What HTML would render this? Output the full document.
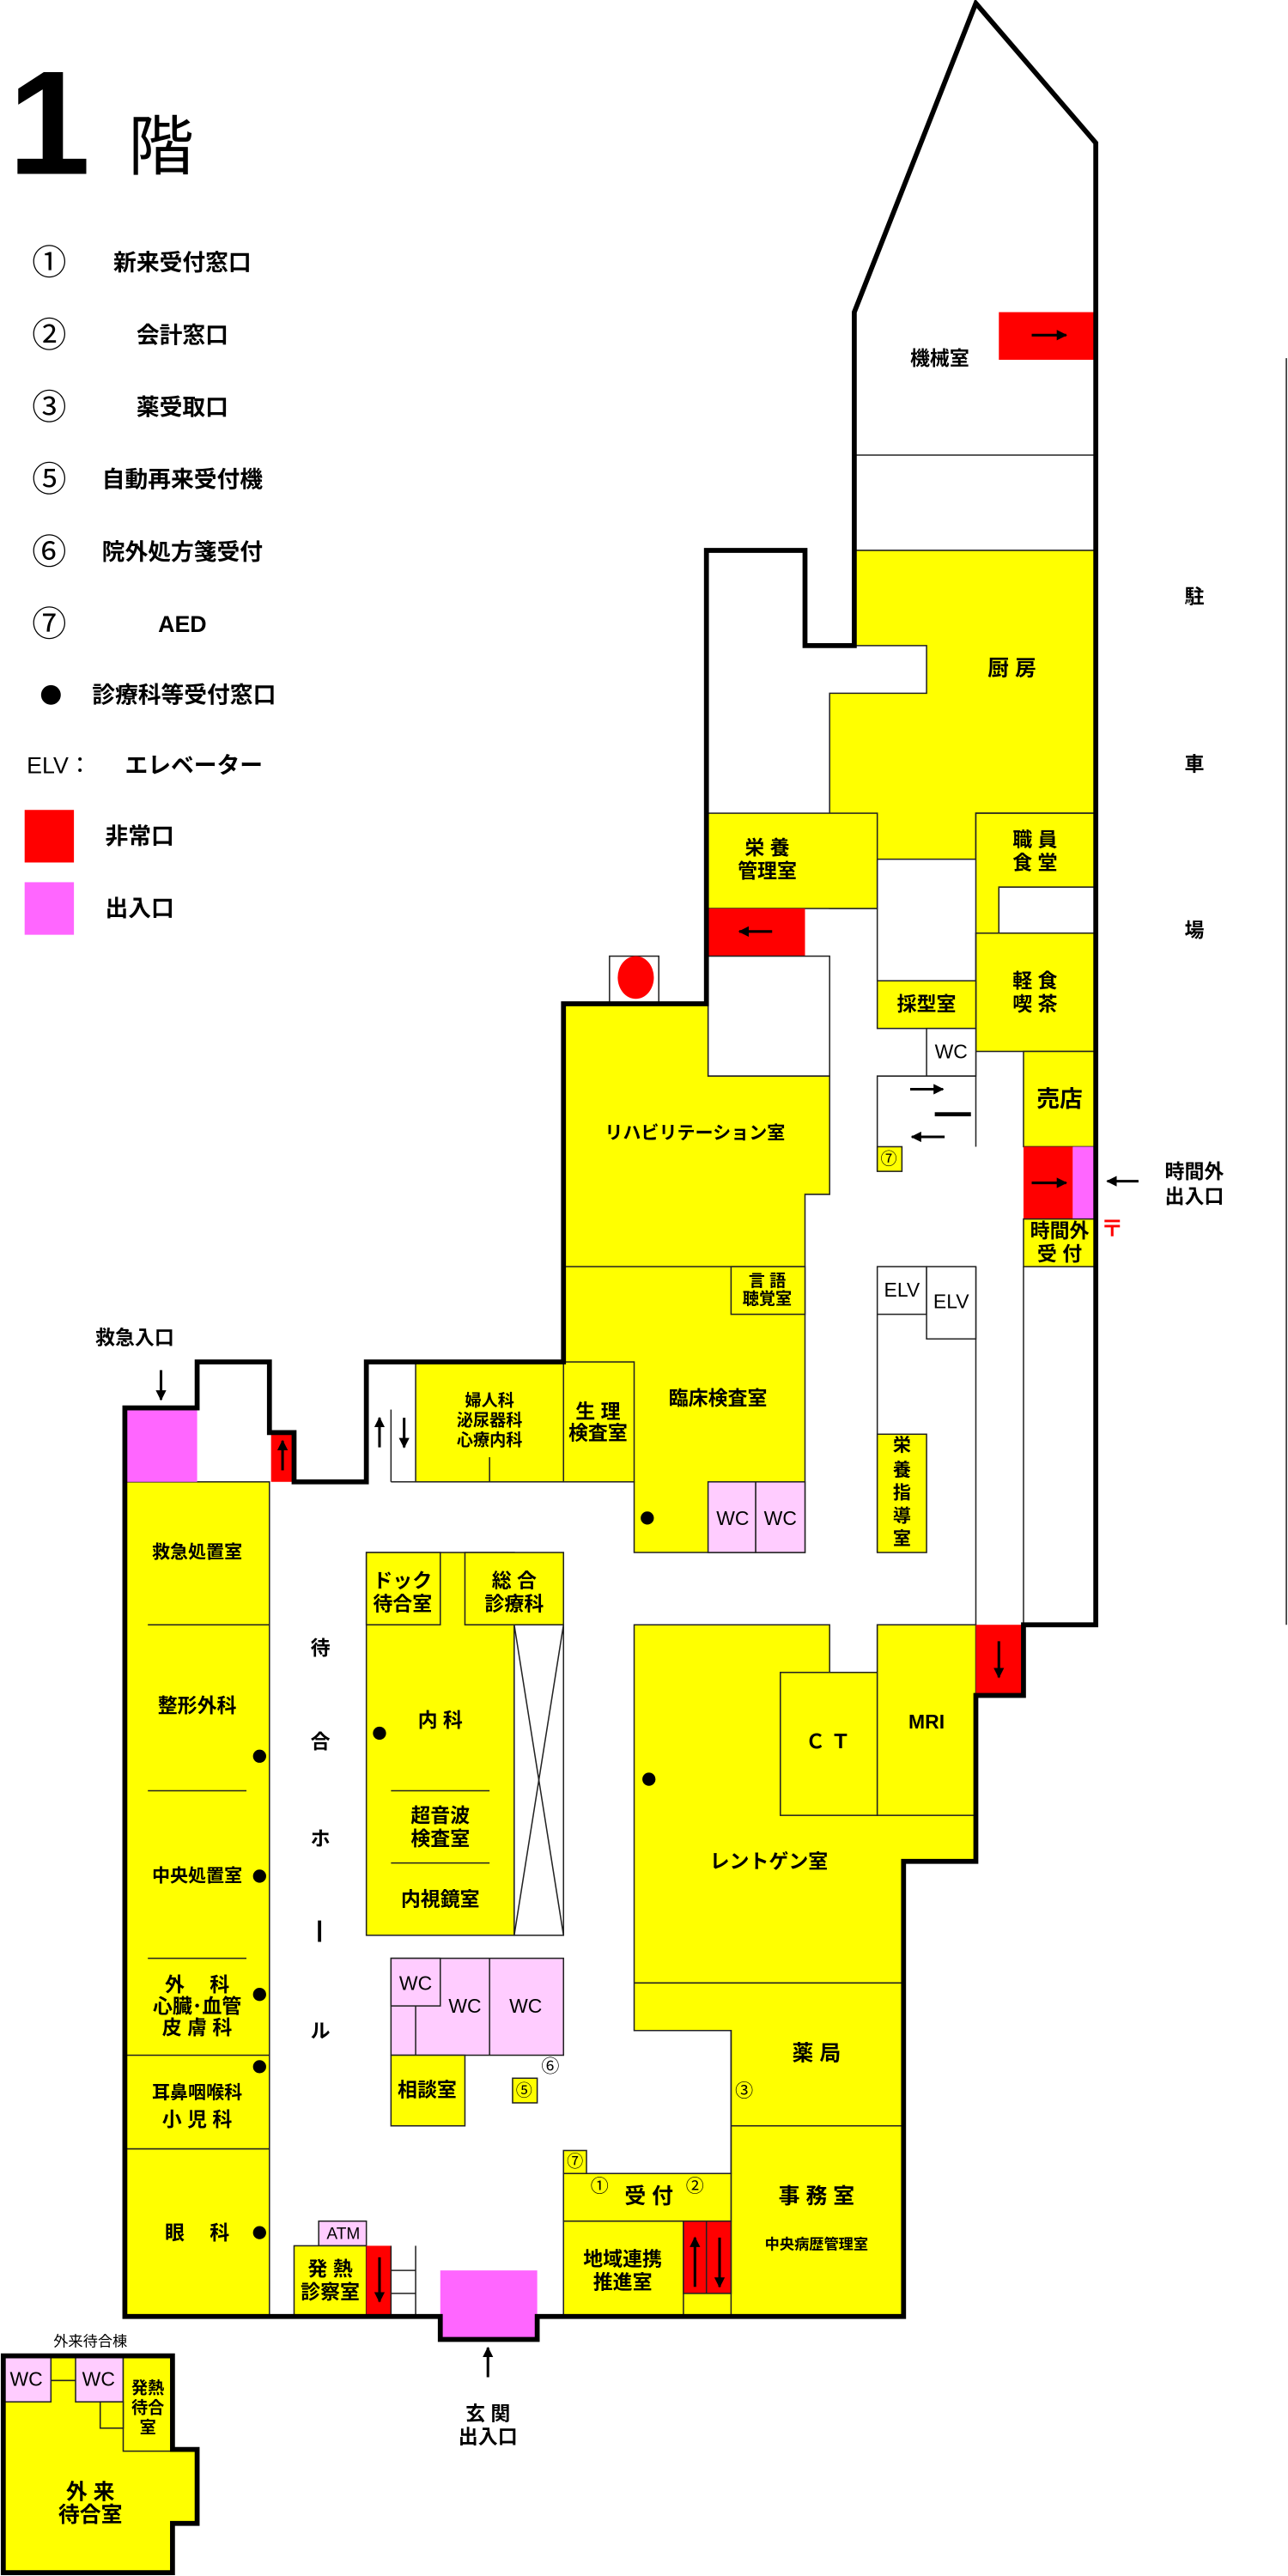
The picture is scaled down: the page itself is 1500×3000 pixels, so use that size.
<!DOCTYPE html>
<html><head><meta charset="utf-8"><style>
html,body{margin:0;padding:0;background:#fff;}
svg{display:block;}
text{font-family:"Liberation Sans","Noto Sans CJK JP",sans-serif;font-weight:bold;fill:#000;}
</style></head><body>
<svg width="1500" height="3000" viewBox="0 0 784 1568" preserveAspectRatio="none" xmlns="http://www.w3.org/2000/svg">
<defs>
<marker id="ah" viewBox="0 0 10 10" refX="9" refY="5" markerWidth="4" markerHeight="4" orient="auto" markerUnits="strokeWidth">
<path d="M0,0 L10,5 L0,10 z" fill="#000"/>
</marker>
</defs>
<g text-anchor="middle" dominant-baseline="central">
<text x="30" y="75" font-size="90" style="font-weight:bold">1</text>
<text x="98" y="90" font-size="40" style="font-weight:normal">階</text>
<g font-size="14">
<text x="30" y="160" font-size="21" style="font-weight:normal">①</text><text x="111" y="160">新来受付窓口</text>
<text x="30" y="204" font-size="21" style="font-weight:normal">②</text><text x="111" y="204">会計窓口</text>
<text x="30" y="248" font-size="21" style="font-weight:normal">③</text><text x="111" y="248">薬受取口</text>
<text x="30" y="292" font-size="21" style="font-weight:normal">⑤</text><text x="111" y="292">自動再来受付機</text>
<text x="30" y="336" font-size="21" style="font-weight:normal">⑥</text><text x="111" y="336">院外処方箋受付</text>
<text x="30" y="380" font-size="21" style="font-weight:normal">⑦</text><text x="111" y="380">AED</text>
<circle cx="31" cy="423" r="6" fill="#000"/><text x="112" y="423">診療科等受付窓口</text>
<text x="36" y="466" style="font-weight:normal">ELV：</text><text x="118" y="466">エレベーター</text>
<rect x="15" y="493" width="30" height="32" fill="#f00"/><text x="85" y="509">非常口</text>
<rect x="15" y="537" width="30" height="32" fill="#f6f"/><text x="85" y="553">出入口</text>
</g>
</g>

<polygon points="430,611 430,335 490,335 490,393 520,393 520,190 594,2 667,87 667,989 623,989 623,1032 594,1032 594,1133 550,1133 550,1410 327,1410 327,1424 268,1424 268,1410 76,1410 76,857 120,857 120,829 164,829 164,872 179,872 179,902 223,902 223,829 343,829 343,611" fill="#fff"/>

<g stroke="#222" stroke-width="0.8">
<polygon points="520,335 667,335 667,495 594,495 594,523 534,523 534,553 505,553 505,422 564,422 564,393 520,393" fill="#ff0"/>
<line x1="520" y1="277" x2="667" y2="277"/>
<rect x="608" y="190" width="59" height="29" fill="#f00" stroke="none"/>
<rect x="431" y="495" width="103" height="58" fill="#ff0"/>
<rect x="431" y="553" width="59" height="29" fill="#f00" stroke="none"/>
<rect x="431" y="582" width="74" height="73" fill="#fff"/>
<polygon points="594,495 667,495 667,540 608,540 608,568 594,568" fill="#ff0"/>
<rect x="608" y="540" width="59" height="28" fill="#fff"/>
<rect x="594" y="568" width="73" height="72" fill="#ff0"/>
<rect x="623" y="640" width="44" height="58" fill="#ff0"/>
<rect x="623" y="698" width="30" height="44" fill="#f00" stroke="none"/>
<rect x="653" y="698" width="14" height="44" fill="#f6f" stroke="none"/>
<rect x="623" y="742" width="44" height="29" fill="#ff0"/>
<line x1="623" y1="771" x2="623" y2="989"/>
<line x1="594" y1="568" x2="594" y2="698"/>
<line x1="594" y1="771" x2="594" y2="989"/>
<line x1="534" y1="523" x2="534" y2="597"/>
<rect x="534" y="597" width="60" height="29" fill="#ff0"/>
<rect x="564" y="626" width="30" height="29" fill="#fff"/>
<polyline points="534,713 534,655 594,655" fill="none"/>
<rect x="534" y="698" width="15" height="15" fill="#ff0"/>
<rect x="534" y="771" width="30" height="29" fill="#fff"/>
<rect x="564" y="771" width="30" height="44" fill="#fff"/>
<line x1="534" y1="800" x2="534" y2="945"/>
<rect x="534" y="873" width="30" height="72" fill="#ff0"/>
<polygon points="343,611 431,611 431,655 505,655 505,727 490,727 490,945 386,945 386,902 343,902" fill="#ff0"/>
<line x1="343" y1="771" x2="490" y2="771"/>
<rect x="445" y="771" width="45" height="29" fill="#ff0"/>
<rect x="343" y="829" width="43" height="73" fill="#ff0"/>
<rect x="253" y="829" width="90" height="73" fill="#ff0"/>
<line x1="298" y1="887" x2="298" y2="902"/>
<line x1="238" y1="858" x2="238" y2="902"/>
<line x1="238" y1="902" x2="253" y2="902"/>
<rect x="431" y="902" width="29" height="43" fill="#fcf"/>
<rect x="460" y="902" width="30" height="43" fill="#fcf"/>
<rect x="371" y="582" width="30" height="29" fill="#fff"/>
<rect x="76" y="902" width="88" height="508" fill="#ff0"/>
<rect x="76" y="857" width="44" height="45" fill="#f6f" stroke="none"/>
<rect x="165" y="872" width="14" height="30" fill="#f00" stroke="none"/>
<line x1="90" y1="989" x2="164" y2="989"/>
<line x1="90" y1="1090" x2="150" y2="1090"/>
<line x1="90" y1="1192" x2="150" y2="1192"/>
<line x1="76" y1="1251" x2="164" y2="1251"/>
<line x1="76" y1="1308" x2="164" y2="1308"/>
<rect x="223" y="945" width="90" height="233" fill="#ff0"/>
<rect x="223" y="945" width="45" height="44" fill="#ff0"/>
<rect x="283" y="945" width="60" height="44" fill="#ff0"/>
<rect x="313" y="989" width="30" height="189" fill="#fff"/>
<line x1="313" y1="989" x2="343" y2="1178"/>
<line x1="343" y1="989" x2="313" y2="1178"/>
<line x1="238" y1="1090" x2="298" y2="1090"/>
<line x1="238" y1="1134" x2="298" y2="1134"/>
<rect x="238" y="1192" width="105" height="59" fill="#fcf"/>
<rect x="238" y="1192" width="30" height="29" fill="#fcf"/>
<line x1="253" y1="1221" x2="253" y2="1251"/>
<line x1="298" y1="1192" x2="298" y2="1251"/>
<rect x="238" y="1251" width="45" height="43" fill="#ff0"/>
<rect x="312" y="1265" width="15" height="15" fill="#ff0"/>
<polygon points="386,989 505,989 505,1018 534,1018 534,989 594,989 594,1133 550,1133 550,1410 343,1410 343,1323 445,1323 445,1236 386,1236" fill="#ff0"/>
<rect x="475" y="1018" width="59" height="87" fill="#ff0"/>
<rect x="534" y="989" width="60" height="116" fill="#ff0"/>
<polyline points="386,1207 550,1207" fill="none"/>
<polyline points="386,1236 445,1236 445,1410" fill="none"/>
<line x1="445" y1="1294" x2="550" y2="1294"/>
<rect x="343" y="1323" width="102" height="29" fill="#ff0"/>
<rect x="343" y="1352" width="73" height="58" fill="#ff0"/>
<rect x="416" y="1352" width="29" height="44" fill="#f00"/>
<line x1="430" y1="1352" x2="430" y2="1396"/>
<rect x="343" y="1309" width="14" height="14" fill="#ff0"/>
<rect x="594" y="989" width="29" height="43" fill="#f00" stroke="none"/>
<rect x="194" y="1352" width="29" height="15" fill="#fcf"/>
<rect x="179" y="1367" width="44" height="43" fill="#ff0"/>
<rect x="223" y="1367" width="15" height="43" fill="#f00" stroke="none"/>
<line x1="238" y1="1367" x2="238" y2="1410"/>
<line x1="253" y1="1367" x2="253" y2="1410"/>
<line x1="238" y1="1382" x2="253" y2="1382"/>
<line x1="238" y1="1396" x2="253" y2="1396"/>
<rect x="268" y="1382" width="59" height="42" fill="#f6f" stroke="none"/>
<polygon points="2,1434 105,1434 105,1491 120,1491 120,1536 105,1536 105,1566 2,1566" fill="#ff0"/>
<rect x="2" y="1434" width="29" height="28" fill="#fcf"/>
<rect x="46" y="1434" width="29" height="28" fill="#fcf"/>
<line x1="31" y1="1449" x2="46" y2="1449"/>
<rect x="75" y="1434" width="30" height="58" fill="#ff0"/>
<rect x="61" y="1462" width="14" height="16" fill="#ff0"/>
<line x1="783" y1="218" x2="783" y2="989"/>
</g>
<ellipse cx="387" cy="595" rx="11" ry="13" fill="#f00"/>

<g fill="none" stroke="#000" stroke-width="3">
<polygon points="430,611 430,335 490,335 490,393 520,393 520,190 594,2 667,87 667,989 623,989 623,1032 594,1032 594,1133 550,1133 550,1410 327,1410 327,1424 268,1424 268,1410 76,1410 76,857 120,857 120,829 164,829 164,872 179,872 179,902 223,902 223,829 343,829 343,611"/>
<polygon points="2,1434 105,1434 105,1491 120,1491 120,1536 105,1536 105,1566 2,1566"/>
</g>

<!-- arrows -->
<g stroke="#000" stroke-width="1.6" fill="none" marker-end="url(#ah)">
<line x1="628" y1="204" x2="649" y2="204"/>
<line x1="470" y1="567" x2="450" y2="567"/>
<line x1="554" y1="663" x2="574" y2="663"/>
<line x1="575" y1="692" x2="555" y2="692"/>
<line x1="628" y1="720" x2="649" y2="720"/>
<line x1="693" y1="719" x2="674" y2="719"/>
<line x1="98" y1="834" x2="98" y2="852"/>
<line x1="172" y1="895" x2="172" y2="877"/>
<line x1="231" y1="881" x2="231" y2="863"/>
<line x1="246" y1="863" x2="246" y2="881"/>
<line x1="608" y1="999" x2="608" y2="1021"/>
<line x1="423" y1="1392" x2="423" y2="1362"/>
<line x1="438" y1="1362" x2="438" y2="1392"/>
<line x1="231" y1="1374" x2="231" y2="1401"/>
<line x1="297" y1="1447" x2="297" y2="1429"/>
</g>
<rect x="569" y="677" width="22" height="2.5" fill="#000"/>

<g text-anchor="middle" dominant-baseline="central" font-size="12">
<text x="572" y="218">機械室</text>
<text x="616" y="407" font-size="13">厨 房</text>
<text x="467" y="516">栄 養</text><text x="467" y="530">管理室</text>
<text x="630" y="511">職 員</text><text x="630" y="525">食 堂</text>
<text x="630" y="597">軽 食</text><text x="630" y="611">喫 茶</text>
<text x="564" y="611">採型室</text>
<text x="579" y="640" style="font-weight:normal">WC</text>
<text x="541" y="706" font-size="10" style="font-weight:normal">⑦</text>
<text x="645" y="669" font-size="14">売店</text>
<text x="645" y="749">時間外</text><text x="645" y="763">受 付</text>
<text x="727" y="713">時間外</text><text x="727" y="728">出入口</text>
<text x="677" y="748" font-size="14" style="fill:#f00">〒</text>
<text x="727" y="363">駐</text><text x="727" y="465">車</text><text x="727" y="566">場</text>
<text x="423" y="690" font-size="11">リハビリテーション室</text>
<text x="467" y="780" font-size="10">言 語</text><text x="467" y="791" font-size="10">聴覚室</text>
<text x="437" y="851">臨床検査室</text>
<text x="364" y="859">生 理</text><text x="364" y="872">検査室</text>
<text x="298" y="853" font-size="10">婦人科</text><text x="298" y="865" font-size="10">泌尿器科</text><text x="298" y="877" font-size="10">心療内科</text>
<circle cx="394" cy="924" r="4" fill="#000"/>
<text x="446" y="924" style="font-weight:normal">WC</text><text x="475" y="924" style="font-weight:normal">WC</text>
<text x="549" y="785" style="font-weight:normal">ELV</text><text x="579" y="792" style="font-weight:normal">ELV</text>
<text x="549" y="880" font-size="11">栄</text><text x="549" y="895" font-size="11">養</text><text x="549" y="909" font-size="11">指</text><text x="549" y="923" font-size="11">導</text><text x="549" y="937" font-size="11">室</text>
<text x="82" y="814">救急入口</text>
<text x="120" y="945" font-size="11">救急処置室</text>
<text x="120" y="1038">整形外科</text>
<text x="120" y="1142" font-size="11">中央処置室</text>
<text x="120" y="1208">外　 科</text><text x="120" y="1221">心臓･血管</text><text x="120" y="1234">皮 膚 科</text>
<text x="120" y="1274" font-size="11">耳鼻咽喉科</text><text x="120" y="1290">小 児 科</text>
<text x="120" y="1359">眼　 科</text>
<circle cx="158" cy="1069" r="4" fill="#000"/><circle cx="158" cy="1142" r="4" fill="#000"/><circle cx="158" cy="1214" r="4" fill="#000"/><circle cx="158" cy="1258" r="4" fill="#000"/><circle cx="158" cy="1359" r="4" fill="#000"/>
<text x="195" y="1003">待</text><text x="195" y="1060">合</text><text x="195" y="1119">ホ</text>
<rect x="193.5" y="1169" width="2" height="13" fill="#000"/>
<text x="195" y="1236">ル</text>
<text x="245" y="962">ドック</text><text x="245" y="976">待合室</text>
<text x="313" y="962">総 合</text><text x="313" y="976">診療科</text>
<circle cx="231" cy="1055" r="4" fill="#000"/>
<text x="268" y="1047">内 科</text>
<text x="268" y="1105">超音波</text><text x="268" y="1119">検査室</text>
<text x="268" y="1156">内視鏡室</text>
<text x="253" y="1207" style="font-weight:normal">WC</text><text x="283" y="1221" style="font-weight:normal">WC</text><text x="320" y="1221" style="font-weight:normal">WC</text>
<text x="260" y="1272">相談室</text>
<text x="319" y="1273" font-size="10" style="font-weight:normal">⑤</text>
<text x="335" y="1258" font-size="11" style="font-weight:normal">⑥</text>
<circle cx="395" cy="1083" r="4" fill="#000"/>
<text x="504" y="1060">Ｃ Ｔ</text>
<text x="564" y="1048">MRI</text>
<text x="468" y="1133">レントゲン室</text>
<text x="497" y="1250" font-size="13">薬 局</text>
<text x="453" y="1273" font-size="11" style="font-weight:normal">③</text>
<text x="497" y="1337" font-size="13">事 務 室</text>
<text x="497" y="1366" font-size="9">中央病歴管理室</text>
<text x="350" y="1316" font-size="10" style="font-weight:normal">⑦</text>
<text x="365" y="1331" font-size="11" style="font-weight:normal">①</text>
<text x="395" y="1337" font-size="13">受 付</text>
<text x="423" y="1331" font-size="11" style="font-weight:normal">②</text>
<text x="379" y="1375">地域連携</text><text x="379" y="1389">推進室</text>
<text x="209" y="1360" font-size="10" style="font-weight:normal">ATM</text>
<text x="201" y="1381">発 熱</text><text x="201" y="1395">診察室</text>
<text x="297" y="1469">玄 関</text><text x="297" y="1483">出入口</text>
<text x="55" y="1425" font-size="9" style="font-weight:normal">外来待合棟</text>
<text x="16" y="1448" style="font-weight:normal">WC</text><text x="60" y="1448" style="font-weight:normal">WC</text>
<text x="90" y="1454" font-size="10">発熱</text><text x="90" y="1466" font-size="10">待合</text><text x="90" y="1478" font-size="10">室</text>
<text x="55" y="1517" font-size="13">外 来</text><text x="55" y="1531" font-size="13">待合室</text>
</g>
</svg>
</body></html>
